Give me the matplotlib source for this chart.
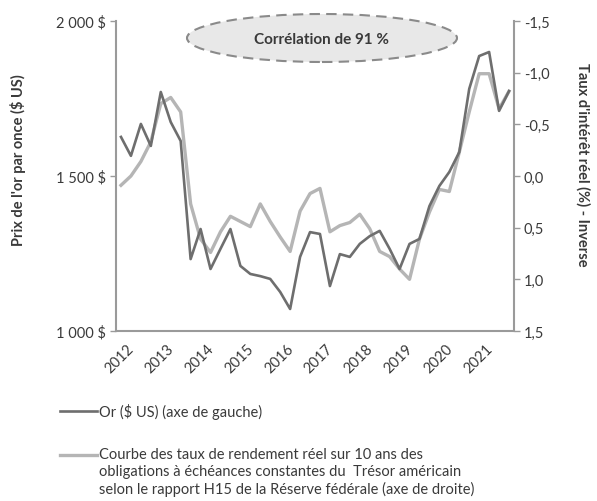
import matplotlib
matplotlib.use("Agg")
import matplotlib.pyplot as plt
from matplotlib.patches import Ellipse
from matplotlib.lines import Line2D
from matplotlib.transforms import ScaledTranslation

plt.rcParams['font.family'] = ['Lato', 'DejaVu Sans']

# Quarterly data, 2012 Q1 - 2021 Q4
years = ["2012", "2013", "2014", "2015", "2016", "2017", "2018", "2019", "2020", "2021"]
gold = [1626, 1565, 1668, 1597, 1771, 1674, 1613, 1232, 1329, 1200,
        1265, 1329, 1210, 1184, 1177, 1168, 1126, 1071, 1239, 1319,
        1313, 1145, 1248, 1239, 1281, 1306, 1323, 1265, 1200, 1281,
        1297, 1403, 1468, 1513, 1577, 1781, 1887, 1900, 1710, 1774]
real_yield = [0.09, 0.00, -0.14, -0.33, -0.70, -0.76, -0.62, 0.27, 0.61, 0.74,
              0.54, 0.39, 0.44, 0.49, 0.27, 0.44, 0.59, 0.73, 0.34, 0.17,
              0.12, 0.54, 0.48, 0.45, 0.37, 0.51, 0.73, 0.78, 0.90, 1.00,
              0.61, 0.35, 0.13, 0.15, -0.23, -0.62, -0.99, -0.99, -0.65, -0.82]
left_ticks = [1000, 1500, 2000]
left_labels = ["1 000 $", "1 500 $", "2 000 $"]
right_ticks = [-1.5, -1.0, -0.5, 0.0, 0.5, 1.0, 1.5]
right_labels = ["-1,5", "-1,0", "-0,5", "0,0", "0,5", "1,0", "1,5"]
gold_label = "Or ($ US) (axe de gauche)"
yield_label = ("Courbe des taux de rendement réel sur 10 ans des\n"
               "obligations à échéances constantes du  Trésor américain\n"
               "selon le rapport H15 de la Réserve fédérale (axe de droite)")

DARK = "#6e6e6e"
LIGHT = "#b5b5b5"
AX = "#9a9a9a"
TXT = "#3a3a3a"

W, H = 597, 502
fig = plt.figure(figsize=(W / 100, H / 100), dpi=100)
ax = fig.add_axes([116 / W, 1 - 332 / H, (514 - 116) / W, (332 - 22) / H])
ax2 = ax.twinx()

x = list(range(len(gold)))
ax.plot(x, gold, color=DARK, lw=1.9, zorder=3)
ax2.plot(x, real_yield, color=LIGHT, lw=2.4, zorder=2)
ax.set_zorder(ax2.get_zorder() + 1)
ax.patch.set_visible(False)

ax.set_xlim(-0.5, len(gold) - 0.5)
ax.set_ylim(1000, 2000)
ax2.set_ylim(1.5, -1.5)

ax.set_yticks(left_ticks)
ax.set_yticklabels(left_labels)
ax2.set_yticks(right_ticks)
ax2.set_yticklabels(right_labels)
xticks = [4 * i for i in range(len(years))]
ax.set_xticks(xticks)
ax.set_xticklabels([])
offset = ScaledTranslation(6 / 100, -10 / 100, fig.dpi_scale_trans)
for xt, yr in zip(xticks, years):
    ax.text(xt, 0, yr, transform=ax.get_xaxis_transform() + offset,
            rotation=45, ha="right", va="top", rotation_mode="anchor",
            fontsize=10.5, color=TXT)

for a in (ax, ax2):
    a.spines["top"].set_visible(False)
    for s in ("left", "right", "bottom"):
        a.spines[s].set_color(AX)
        a.spines[s].set_linewidth(1.5)
ax.spines["right"].set_visible(False)
ax2.spines["left"].set_visible(False)
ax2.spines["bottom"].set_visible(False)

ax.tick_params(axis="y", length=4, width=1, color=AX, labelsize=10.5, labelcolor=TXT, pad=3)
ax.tick_params(axis="x", length=0)
ax2.tick_params(axis="y", length=4, width=1, color=AX, labelsize=10.5, labelcolor=TXT, pad=3)

fig.text(18 / W, 1 - 160 / H, "Prix de l'or par once ($ US)", rotation=90,
         ha="center", va="center", fontsize=10.5, fontweight="bold", color=TXT)
fig.text(583 / W, 1 - 165 / H, "Taux d'intérêt réel (%) - Inverse", rotation=-90,
         ha="center", va="center", fontsize=10.5, fontweight="bold", color=TXT)

# Correlation annotation
ell = Ellipse((322 / W, 1 - 39 / H), 270 / W, 48 / H, transform=fig.transFigure,
              facecolor="#e8e8e8", edgecolor="#8a8a8a", lw=1.5, ls=(0, (5, 3)))
fig.add_artist(ell)
fig.text(322 / W, 1 - 40 / H, "Corrélation de 91 %", ha="center", va="center",
         fontsize=11, fontweight="bold", color=TXT)

# Legend
fig.add_artist(Line2D([60 / W, 97 / W], [1 - 412 / H, 1 - 412 / H], color=DARK, lw=1.9,
                      transform=fig.transFigure))
fig.text(99 / W, 1 - 412 / H, gold_label, ha="left", va="center", fontsize=10.5, color=TXT)
fig.add_artist(Line2D([60 / W, 97 / W], [1 - 456 / H, 1 - 456 / H], color=LIGHT, lw=2.4,
                      transform=fig.transFigure))
fig.text(99 / W, 1 - 448 / H, yield_label, ha="left", va="top", fontsize=10.5, color=TXT,
         linespacing=1.25)

fig.savefig("out.png", dpi=100)
